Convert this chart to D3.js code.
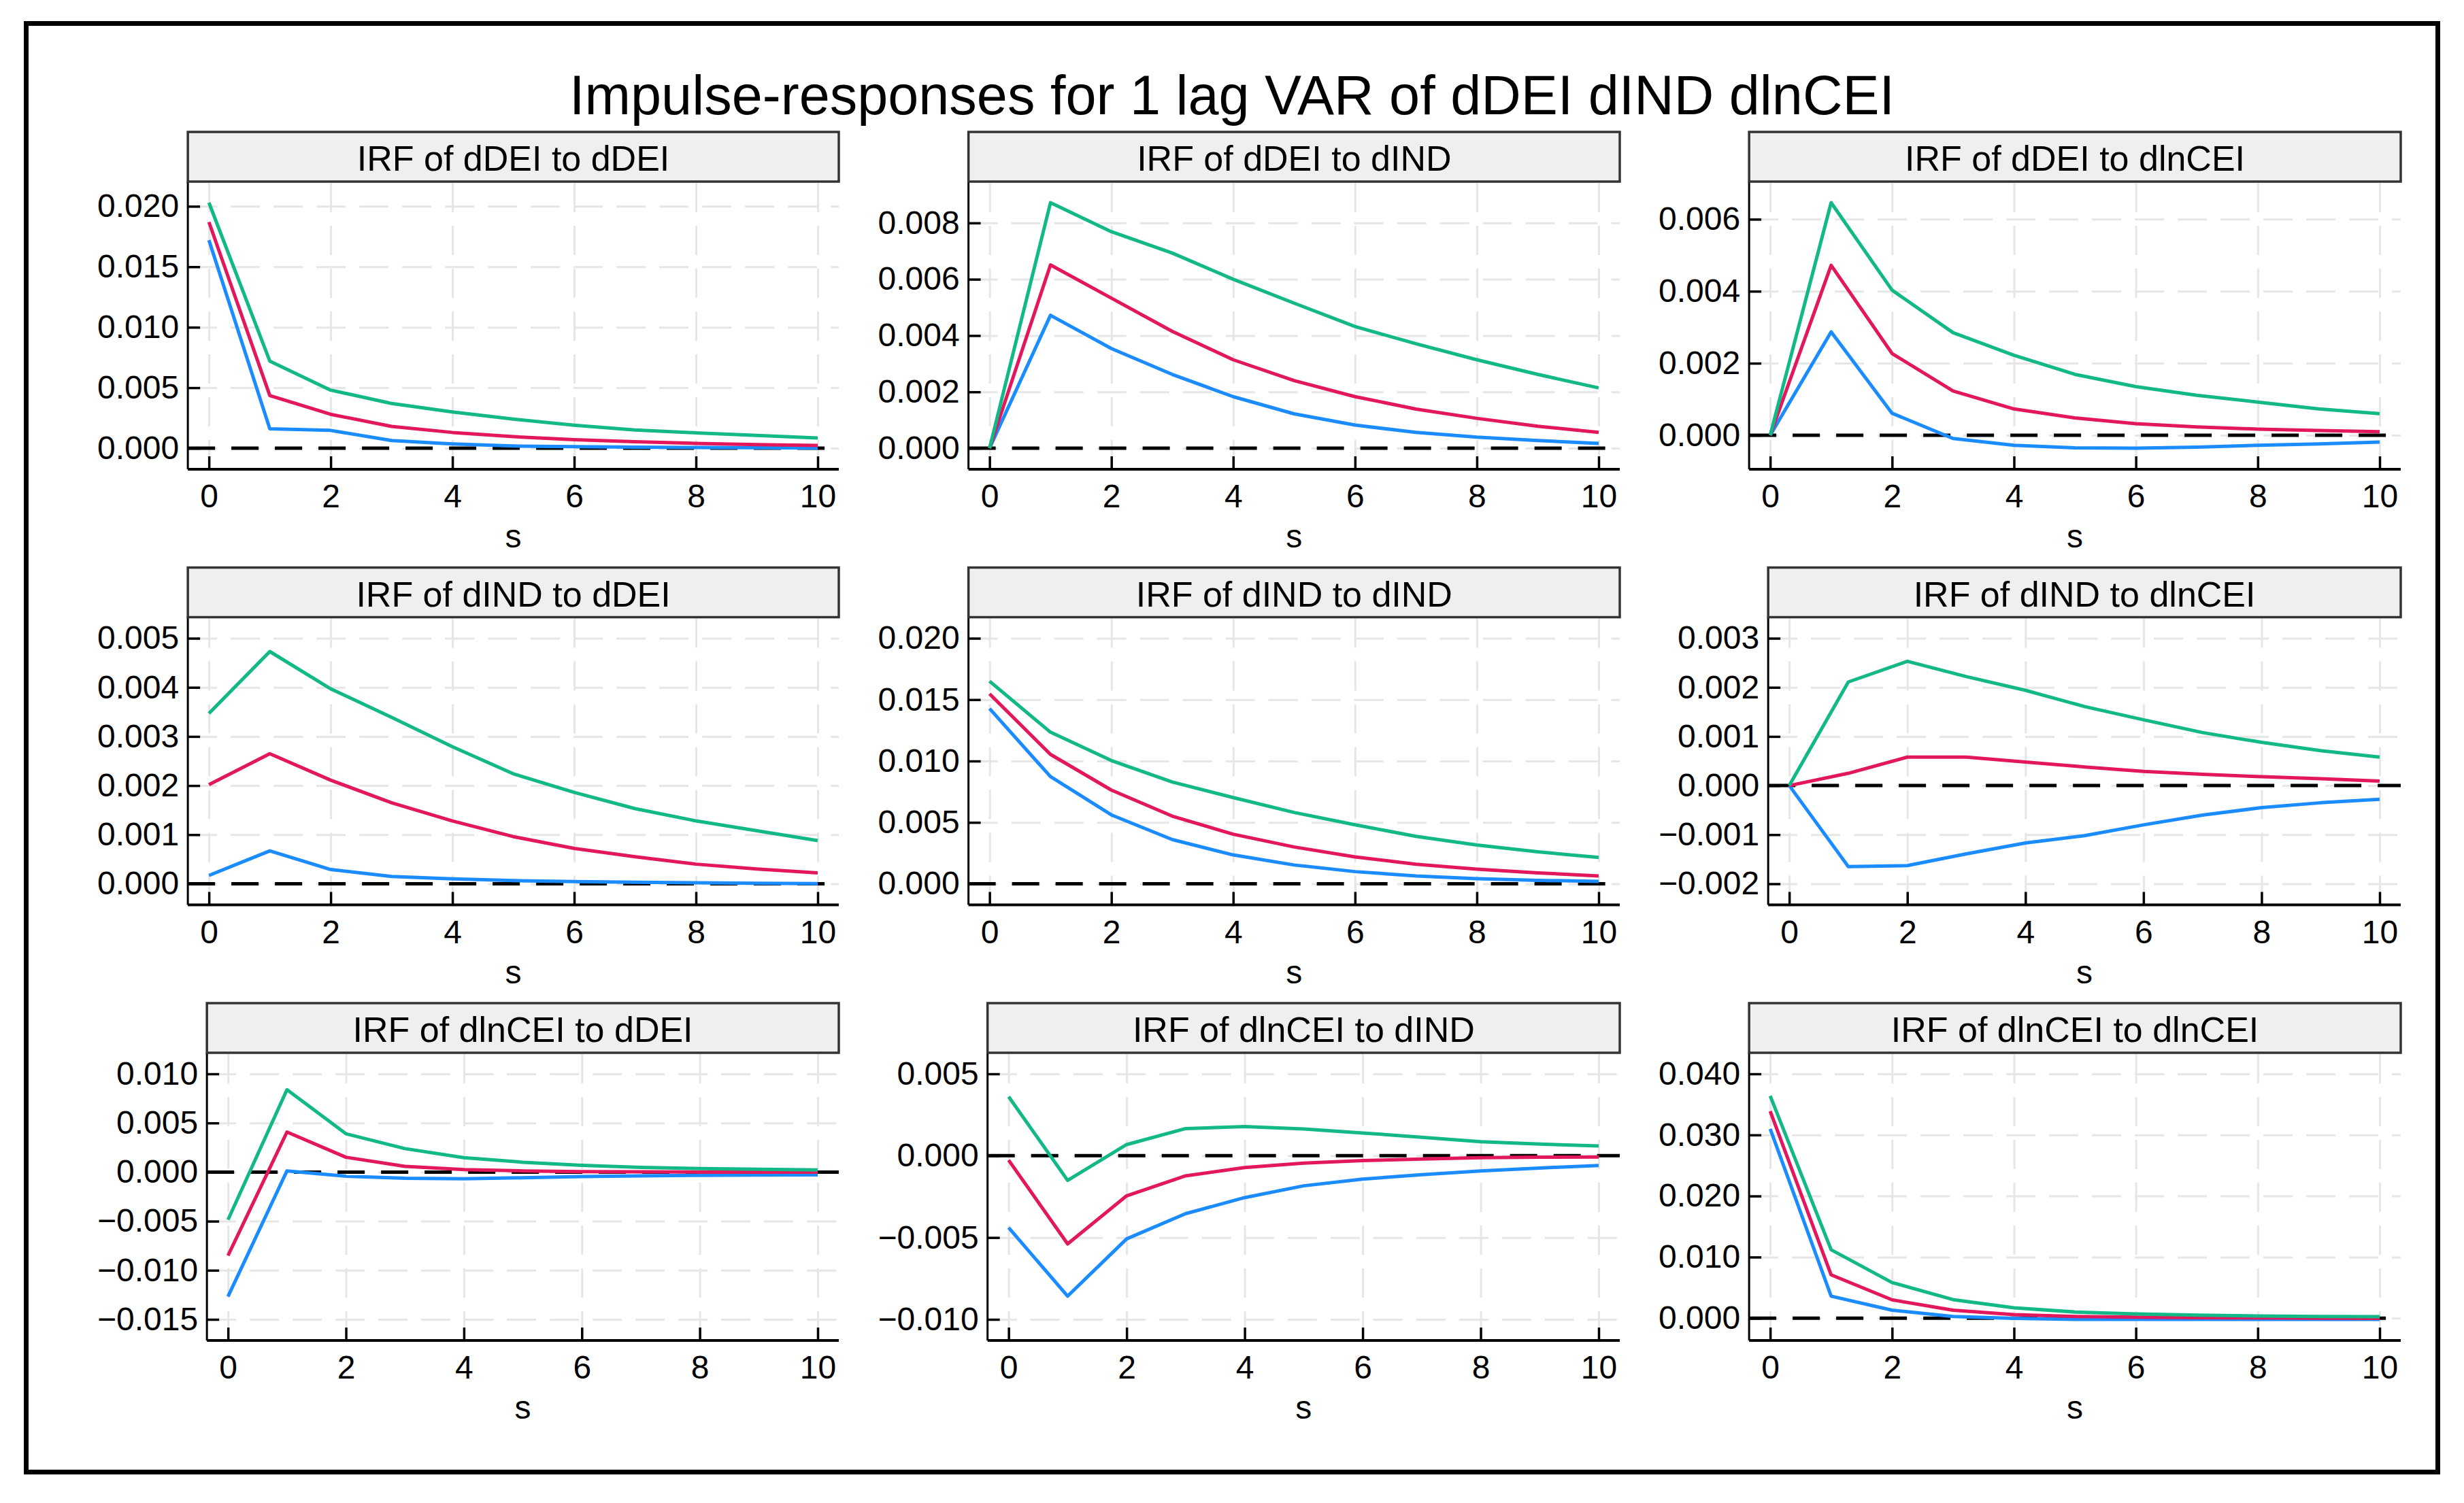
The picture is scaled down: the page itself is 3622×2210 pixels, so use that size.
<!DOCTYPE html>
<html>
<head>
<meta charset="utf-8">
<script src="https://cdn.jsdelivr.net/npm/d3@7"></script>
<style>
  body { margin: 0; background: #fff; }
  text { font-family: "Liberation Sans", Arial, sans-serif; }
</style>
</head>
<body>
<svg id="chart"></svg>
<script>
// horizon steps
const steps = [0, 1, 2, 3, 4, 5, 6, 7, 8, 9, 10];
const xTicks = [0, 2, 4, 6, 8, 10];

const chartTitle = "Impulse-responses for 1 lag VAR of dDEI dIND dlnCEI";
const axisTitle = "s";

// response of dDEI
const hi_dDEI_dDEI = [0.0203, 0.0072, 0.0048, 0.0037, 0.0030, 0.0024, 0.0019, 0.0015, 0.00127, 0.00105, 0.00084];
const irf_dDEI_dDEI = [0.0187, 0.00435, 0.0028, 0.0018, 0.0013, 0.00095, 0.0007, 0.00053, 0.0004, 0.0003, 0.00022];
const lo_dDEI_dDEI = [0.0172, 0.0016, 0.00147, 0.00063, 0.00035, 0.00018, 0.00012, 0.00008, 0.00006, 0.00004, 0.00002];
const ticks_dDEI_dDEI = [0, 0.005, 0.010, 0.015, 0.020];

const hi_dDEI_dIND = [0, 0.00872, 0.00769, 0.00693, 0.0060, 0.00515, 0.00432, 0.00371, 0.00314, 0.00262, 0.00214];
const irf_dDEI_dIND = [0, 0.00651, 0.00533, 0.00415, 0.00314, 0.0024, 0.00183, 0.00139, 0.00106, 0.00078, 0.00056];
const lo_dDEI_dIND = [0, 0.00472, 0.00354, 0.00262, 0.00183, 0.00122, 0.00082, 0.00056, 0.00039, 0.00027, 0.00017];
const ticks_dDEI_dIND = [0, 0.002, 0.004, 0.006, 0.008];

const hi_dDEI_dlnCEI = [0, 0.00646, 0.00403, 0.00285, 0.00222, 0.00169, 0.00135, 0.00111, 0.00092, 0.00073, 0.0006];
const irf_dDEI_dlnCEI = [0, 0.00472, 0.00227, 0.00123, 0.00073, 0.00048, 0.00032, 0.00023, 0.00017, 0.00013, 0.0001];
const lo_dDEI_dlnCEI = [0, 0.00287, 0.00061, -0.00009, -0.00028, -0.00035, -0.00036, -0.00033, -0.00028, -0.00024, -0.00019];
const ticks_dDEI_dlnCEI = [0, 0.002, 0.004, 0.006];

// response of dIND
const hi_dIND_dDEI = [0.00347, 0.00473, 0.00397, 0.00339, 0.00279, 0.00224, 0.00186, 0.00153, 0.00128, 0.00108, 0.00088];
const irf_dIND_dDEI = [0.00202, 0.00265, 0.00211, 0.00165, 0.00128, 0.00096, 0.00072, 0.00055, 0.0004, 0.0003, 0.00022];
const lo_dIND_dDEI = [0.00017, 0.00067, 0.00029, 0.00015, 0.0001, 0.000065, 0.000045, 0.00003, 0.00002, 0.00001, 0.000005];
const ticks_dIND_dDEI = [0, 0.001, 0.002, 0.003, 0.004, 0.005];

const hi_dIND_dIND = [0.0165, 0.01235, 0.01004, 0.00829, 0.00702, 0.00581, 0.00481, 0.00386, 0.00316, 0.0026, 0.00215];
const irf_dIND_dIND = [0.01547, 0.01054, 0.00763, 0.00551, 0.00404, 0.003, 0.00219, 0.00159, 0.00119, 0.00089, 0.00064];
const lo_dIND_dIND = [0.01427, 0.00873, 0.00561, 0.0036, 0.00235, 0.00153, 0.00099, 0.00064, 0.00042, 0.00028, 0.0002];
const ticks_dIND_dIND = [0, 0.005, 0.010, 0.015, 0.020];

const hi_dIND_dlnCEI = [0, 0.00211, 0.00253, 0.00222, 0.00194, 0.00161, 0.00134, 0.00108, 0.00088, 0.00071, 0.00058];
const irf_dIND_dlnCEI = [0, 0.00025, 0.00058, 0.00058, 0.00048, 0.00038, 0.00029, 0.00023, 0.00018, 0.00014, 0.00009];
const lo_dIND_dlnCEI = [0, -0.00165, -0.00163, -0.00139, -0.00117, -0.00102, -0.0008, -0.0006, -0.00045, -0.00035, -0.00028];
const ticks_dIND_dlnCEI = [-0.002, -0.001, 0, 0.001, 0.002, 0.003];

// response of dlnCEI
const hi_dlnCEI_dDEI = [-0.00486, 0.00839, 0.0039, 0.00239, 0.00146, 0.001, 0.00068, 0.00048, 0.00035, 0.00028, 0.00022];
const irf_dlnCEI_dDEI = [-0.00851, 0.00408, 0.00151, 0.00058, 0.00025, 0.00012, 0.00005, 0.00002, 0, -0.00001, -0.00001];
const lo_dlnCEI_dDEI = [-0.01267, 0.00012, -0.00043, -0.00063, -0.00068, -0.00058, -0.00045, -0.00038, -0.00033, -0.0003, -0.00028];
const ticks_dlnCEI_dDEI = [-0.015, -0.010, -0.005, 0, 0.005, 0.010];

const hi_dlnCEI_dIND = [0.00361, -0.00151, 0.00068, 0.00166, 0.00178, 0.00163, 0.00139, 0.00113, 0.00086, 0.00071, 0.0006];
const irf_dlnCEI_dIND = [-0.00027, -0.00539, -0.00245, -0.00123, -0.00072, -0.00045, -0.0003, -0.0002, -0.00012, -0.00009, -0.00008];
const lo_dlnCEI_dIND = [-0.0044, -0.00858, -0.00508, -0.00354, -0.00256, -0.00184, -0.00143, -0.00116, -0.00093, -0.00075, -0.0006];
const ticks_dlnCEI_dIND = [-0.010, -0.005, 0, 0.005];

const hi_dlnCEI_dlnCEI = [0.0364, 0.0112, 0.00583, 0.00304, 0.0017, 0.00101, 0.00069, 0.00049, 0.00036, 0.00028, 0.00024];
const irf_dlnCEI_dlnCEI = [0.0339, 0.00709, 0.003, 0.0013, 0.00057, 0.00028, 0.00016, 0.00008, 0.00004, 0, -0.00004];
const lo_dlnCEI_dlnCEI = [0.031, 0.0036, 0.0013, 0.00028, -0.00004, -0.0002, -0.0002, -0.0002, -0.0002, -0.0002, -0.0002];
const ticks_dlnCEI_dlnCEI = [0, 0.010, 0.020, 0.030, 0.040];

const panels = [
	{ title: "IRF of dDEI to dDEI", lo: lo_dDEI_dDEI, irf: irf_dDEI_dDEI, hi: hi_dDEI_dDEI, ticks: ticks_dDEI_dDEI },
	{ title: "IRF of dDEI to dIND", lo: lo_dDEI_dIND, irf: irf_dDEI_dIND, hi: hi_dDEI_dIND, ticks: ticks_dDEI_dIND },
	{ title: "IRF of dDEI to dlnCEI", lo: lo_dDEI_dlnCEI, irf: irf_dDEI_dlnCEI, hi: hi_dDEI_dlnCEI, ticks: ticks_dDEI_dlnCEI },
	{ title: "IRF of dIND to dDEI", lo: lo_dIND_dDEI, irf: irf_dIND_dDEI, hi: hi_dIND_dDEI, ticks: ticks_dIND_dDEI },
	{ title: "IRF of dIND to dIND", lo: lo_dIND_dIND, irf: irf_dIND_dIND, hi: hi_dIND_dIND, ticks: ticks_dIND_dIND },
	{ title: "IRF of dIND to dlnCEI", lo: lo_dIND_dlnCEI, irf: irf_dIND_dlnCEI, hi: hi_dIND_dlnCEI, ticks: ticks_dIND_dlnCEI },
	{ title: "IRF of dlnCEI to dDEI", lo: lo_dlnCEI_dDEI, irf: irf_dlnCEI_dDEI, hi: hi_dlnCEI_dDEI, ticks: ticks_dlnCEI_dDEI },
	{ title: "IRF of dlnCEI to dIND", lo: lo_dlnCEI_dIND, irf: irf_dlnCEI_dIND, hi: hi_dlnCEI_dIND, ticks: ticks_dlnCEI_dIND },
	{ title: "IRF of dlnCEI to dlnCEI", lo: lo_dlnCEI_dlnCEI, irf: irf_dlnCEI_dlnCEI, hi: hi_dlnCEI_dlnCEI, ticks: ticks_dlnCEI_dlnCEI }
];

const colors = { lo: "#1a8cff", irf: "#e3175c", hi: "#12b886" };

const W = 3622, H = 2210;
const dims = {
	labelLeft: 143, colStep: 1147.5,
	right: 1233, rightStep: 1148,
	stripTop: 194, rowStep: 640.5,
	stripH: 73, plotH: 423,
	pad: 31, labelGap: 13
};
const tickFont = 48;
const fmt = d3.format(".3f");

const svg = d3.select("#chart").attr("width", W).attr("height", H);
svg.append("rect").attr("width", W).attr("height", H).attr("fill", "#fff");
svg.append("rect")
	.attr("x", 38.5).attr("y", 34.5)
	.attr("width", 3545).attr("height", 2130)
	.attr("fill", "none").attr("stroke", "#000").attr("stroke-width", 7);

svg.append("text")
	.attr("x", W / 2).attr("y", 168)
	.attr("text-anchor", "middle")
	.attr("font-size", 81)
	.text(chartTitle);

// used to size the y label column, as Stata does
const probe = svg.append("text").attr("font-size", tickFont);
function textWidth(s) {
	probe.text(s);
	return probe.node().getComputedTextLength();
}

panels.forEach((p, i) => {
	const row = Math.floor(i / 3), col = i % 3;
	const labelW = d3.max(p.ticks, t => textWidth(fmt(t)));
	const left = dims.labelLeft + col * dims.colStep + labelW + dims.labelGap;
	const right = dims.right + col * dims.rightStep;
	const stripTop = dims.stripTop + row * dims.rowStep;
	const top = stripTop + dims.stripH;
	const bottom = top + dims.plotH;

	const x = d3.scaleLinear().domain([0, 10]).range([left + dims.pad, right - dims.pad]);
	const y = d3.scaleLinear()
		.domain(d3.extent(p.lo.concat(p.irf, p.hi, p.ticks)))
		.range([bottom - dims.pad, top + dims.pad]);

	const g = svg.append("g").attr("class", "panel");

	// grid
	g.append("g")
		.attr("transform", `translate(${left},0)`)
		.call(d3.axisLeft(y).tickValues(p.ticks).tickSize(-(right - left)).tickFormat(""))
		.call(s => {
			s.select(".domain").remove();
			s.selectAll("line").attr("stroke", "#e6e6e6").attr("stroke-width", 3).attr("stroke-dasharray", "43,20");
		});
	g.append("g")
		.attr("transform", `translate(0,${bottom})`)
		.call(d3.axisBottom(x).tickValues(xTicks).tickSize(-(bottom - top)).tickFormat(""))
		.call(s => {
			s.select(".domain").remove();
			s.selectAll("line").attr("stroke", "#e6e6e6").attr("stroke-width", 3).attr("stroke-dasharray", "43,20");
		});

	// zero reference
	g.append("line")
		.attr("x1", left).attr("x2", right)
		.attr("y1", y(0)).attr("y2", y(0))
		.attr("stroke", "#000").attr("stroke-width", 5)
		.attr("stroke-dasharray", "40,24");

	const line = d3.line().x((d, j) => x(steps[j])).y(d => y(d));
	["lo", "irf", "hi"].forEach(k => {
		g.append("path")
			.attr("d", line(p[k]))
			.attr("fill", "none")
			.attr("stroke", colors[k])
			.attr("stroke-width", 5)
			.attr("stroke-linejoin", "round");
	});

	// axes
	g.append("g")
		.attr("transform", `translate(${left},0)`)
		.call(d3.axisLeft(y).tickValues(p.ticks).tickSizeInner(-18).tickSizeOuter(0).tickPadding(dims.labelGap).tickFormat(fmt))
		.call(s => {
			s.select(".domain").remove();
			s.attr("font-size", tickFont).attr("font-family", null);
			s.selectAll("line").attr("stroke", "#000").attr("stroke-width", 3.5);
			s.selectAll("text").attr("fill", "#000");
		});
	g.append("g")
		.attr("transform", `translate(0,${bottom})`)
		.call(d3.axisBottom(x).tickValues(xTicks).tickSizeInner(-19).tickSizeOuter(0).tickPadding(22).tickFormat(d3.format("d")))
		.call(s => {
			s.select(".domain").remove();
			s.attr("font-size", tickFont).attr("font-family", null);
			s.selectAll("line").attr("stroke", "#000").attr("stroke-width", 3.5);
			s.selectAll("text").attr("fill", "#000");
		});

	g.append("line")
		.attr("x1", left).attr("x2", left).attr("y1", top).attr("y2", bottom)
		.attr("stroke", "#000").attr("stroke-width", 3);
	g.append("line")
		.attr("x1", left).attr("x2", right).attr("y1", bottom).attr("y2", bottom)
		.attr("stroke", "#000").attr("stroke-width", 4);

	g.append("text")
		.attr("x", (left + right) / 2).attr("y", bottom + 115)
		.attr("text-anchor", "middle")
		.attr("font-size", tickFont)
		.text(axisTitle);

	// strip title
	g.append("rect")
		.attr("x", left).attr("y", stripTop)
		.attr("width", right - left).attr("height", dims.stripH)
		.attr("fill", "#efefef").attr("stroke", "#333").attr("stroke-width", 3.5);
	g.append("text")
		.attr("x", (left + right) / 2).attr("y", stripTop + 57)
		.attr("text-anchor", "middle")
		.attr("font-size", 52)
		.text(p.title);
});

probe.remove();
</script>
</body>
</html>
